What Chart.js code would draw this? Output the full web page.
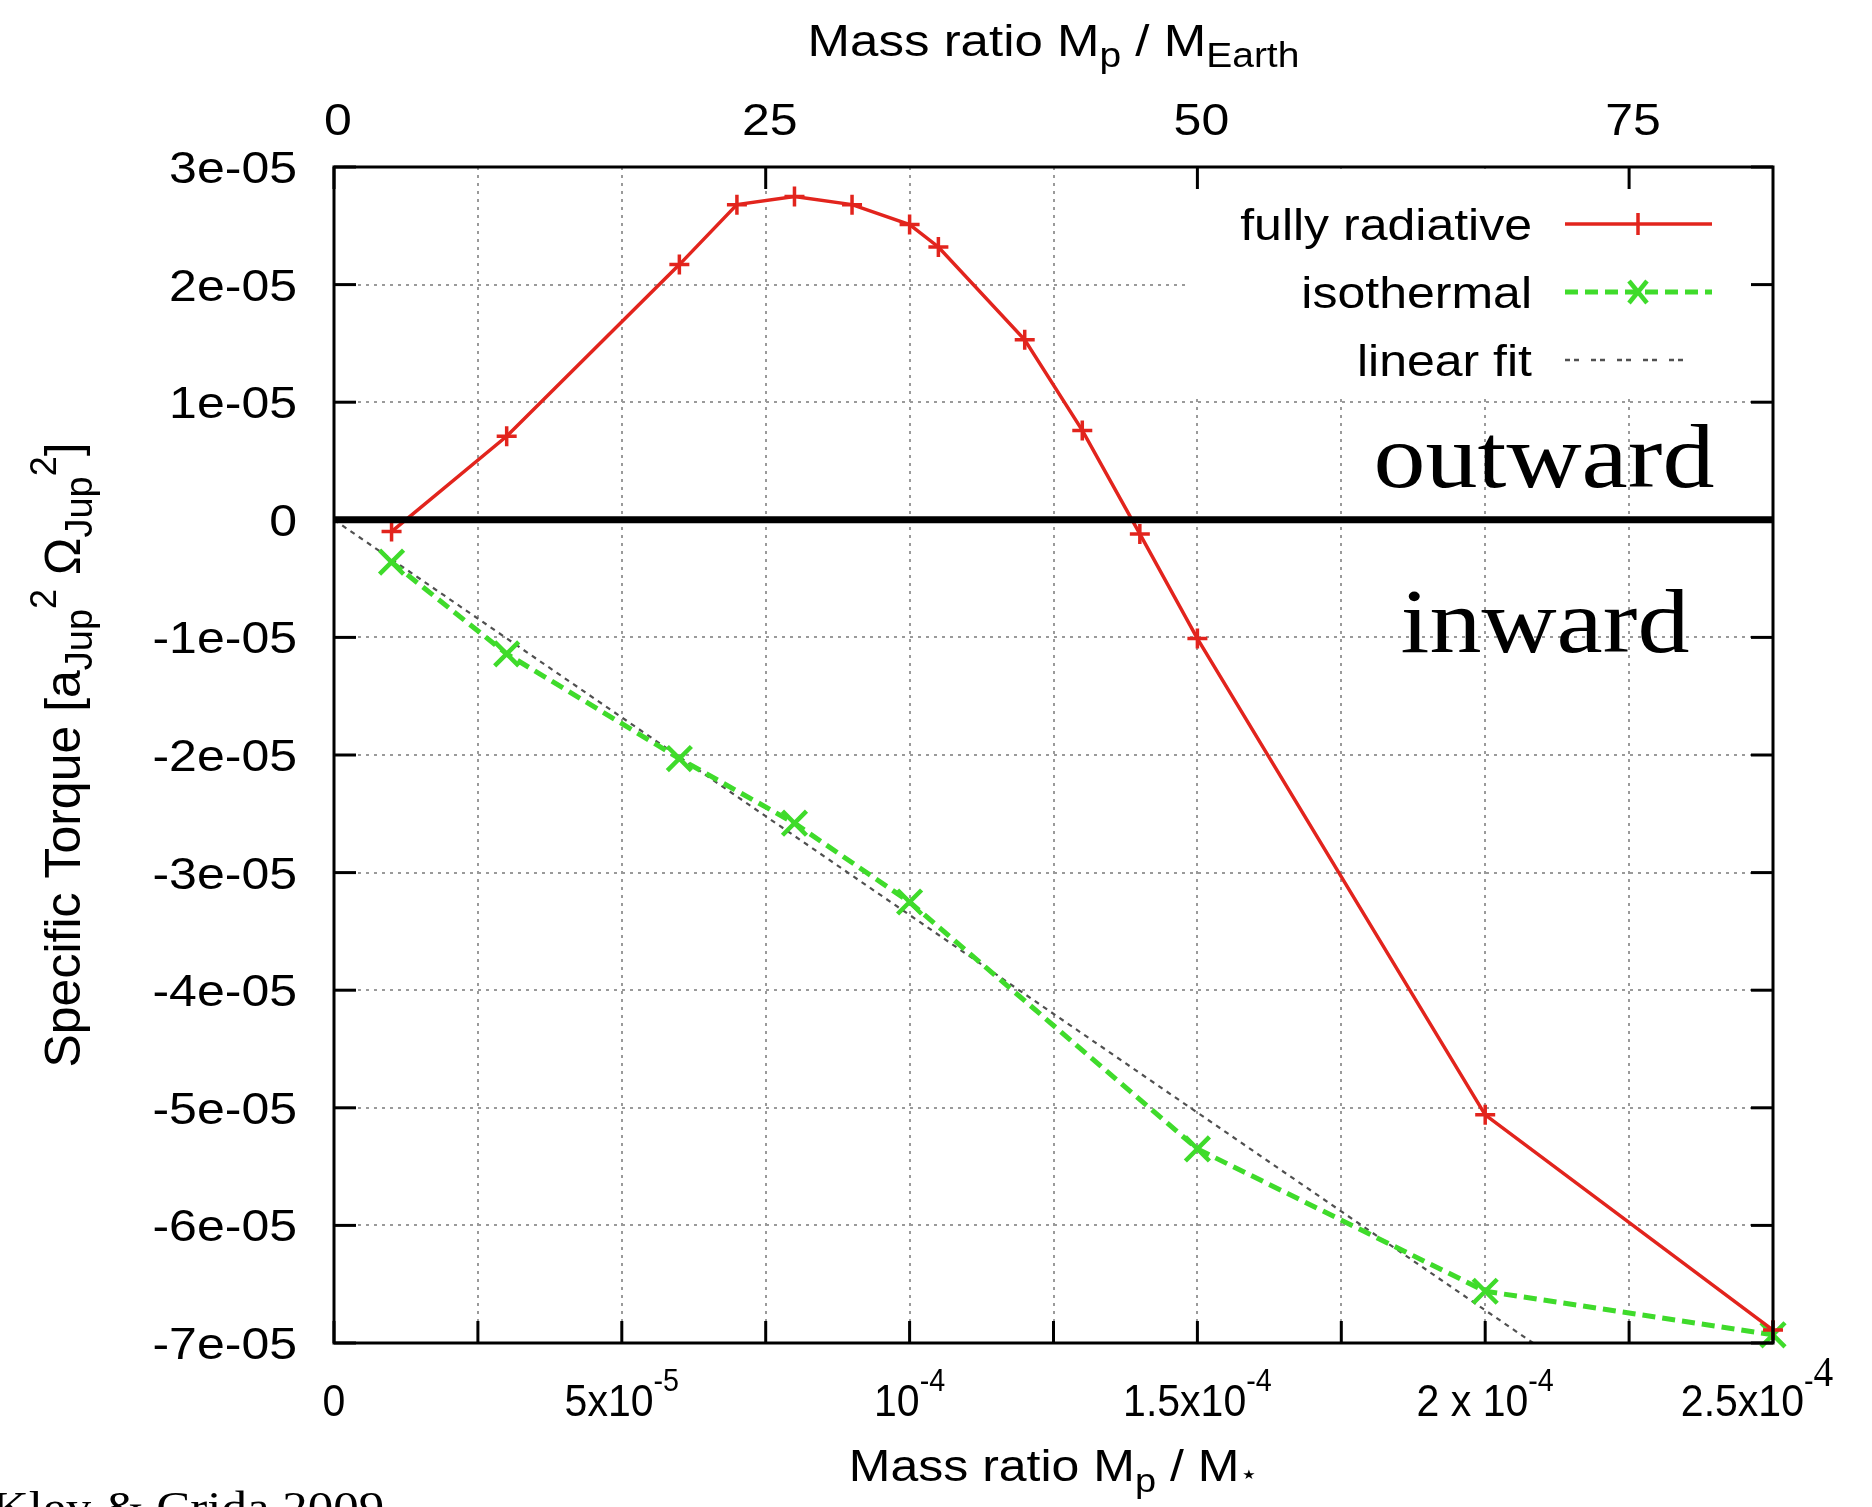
<!DOCTYPE html>
<html>
<head>
<meta charset="utf-8">
<script src="https://cdn.jsdelivr.net/npm/chart.js@4.4.1/dist/chart.umd.min.js"></script>
<style>
html, body { margin: 0; padding: 0; background: #fff; }
#wrap { width: 1872px; height: 1507px; }
</style>
</head>
<body>
<div id="wrap"><canvas id="torque" width="1872" height="1507"></canvas></div>
<script>
// fully radiative runs
var radiativeX = [1e-5, 3e-5, 6e-5, 7e-5, 8e-5, 9e-5, 1.0e-4, 1.05e-4, 1.2e-4, 1.3e-4, 1.4e-4, 1.5e-4, 2.0e-4, 2.5e-4];
var radiativeY = [-1.0e-6, 7.1e-6, 2.17e-5, 2.68e-5, 2.75e-5, 2.68e-5, 2.51e-5, 2.32e-5, 1.53e-5, 7.6e-6, -1.2e-6, -1.01e-5, -5.06e-5, -6.89e-5];
// isothermal runs
var isothermalX = [1e-5, 3e-5, 6e-5, 8e-5, 1.0e-4, 1.5e-4, 2.0e-4, 2.5e-4];
var isothermalY = [-3.6e-6, -1.14e-5, -2.03e-5, -2.58e-5, -3.25e-5, -5.35e-5, -6.56e-5, -6.93e-5];
// linear fit (through origin)
var fitX = [0, 2.083e-4];
var fitY = [0, -7.0e-5];

var yTickValues = [3e-5, 2e-5, 1e-5, 0, -1e-5, -2e-5, -3e-5, -4e-5, -5e-5, -6e-5, -7e-5];
var yTickLabels = ['3e-05', '2e-05', '1e-05', '0', '-1e-05', '-2e-05', '-3e-05', '-4e-05', '-5e-05', '-6e-05', '-7e-05'];
var xGridValues = [0, 2.5e-5, 5e-5, 7.5e-5, 1e-4, 1.25e-4, 1.5e-4, 1.75e-4, 2e-4, 2.25e-4, 2.5e-4];
var xTickValues = [0, 5e-5, 1e-4, 1.5e-4, 2e-4, 2.5e-4];
var xTickBase = ['0', '5x10', '10', '1.5x10', '2 x 10', '2.5x10'];
var xTickExp = ['', '-5', '-4', '-4', '-4', '-4'];
var earthMass = 3.0e-6;   // M_Earth / M_star
var topTickValues = [0, 25, 50, 75];
var topTickLabels = ['0', '25', '50', '75'];

var RED = '#e2241d';
var GREEN = '#3fdb2b';
var FIT = '#505050';
var GRID = '#9a9a9a';
var SANS = '"Liberation Sans", Arial, sans-serif';
var SERIF = '"Liberation Serif", "Times New Roman", serif';
var VS = 0.88;

function toPoints(xs, ys) {
  return xs.map(function (x, i) { return {x: x, y: ys[i]}; });
}

// parts: [text, size, dy, family]
function richText(ctx, parts, x, y, align, rot, hs) {
  ctx.save();
  ctx.translate(x, y);
  if (rot) ctx.rotate(rot); else ctx.scale(hs || 1, VS);
  ctx.textAlign = 'left';
  ctx.textBaseline = 'alphabetic';
  ctx.fillStyle = '#000';
  var w = 0;
  parts.forEach(function (p) { ctx.font = p[1] + 'px ' + (p[3] || SANS); w += ctx.measureText(p[0]).width; });
  var cx = align === 'center' ? -w / 2 : (align === 'right' ? -w : 0);
  parts.forEach(function (p) {
    ctx.font = p[1] + 'px ' + (p[3] || SANS);
    ctx.fillText(p[0], cx, p[2] || 0);
    cx += ctx.measureText(p[0]).width;
  });
  ctx.restore();
}

function seg(ctx, x1, y1, x2, y2) {
  ctx.beginPath(); ctx.moveTo(x1, y1); ctx.lineTo(x2, y2); ctx.stroke();
}

var gnuplotFrame = {
  id: 'gnuplotFrame',
  beforeDatasetsDraw: function (chart) {
    // opaque key box, hides the grid behind the legend
    var ctx = chart.ctx, a = chart.chartArea;
    ctx.save();
    ctx.fillStyle = '#fff';
    ctx.fillRect(1190, a.top + 2, a.right - 1192, 392 - a.top);
    ctx.restore();
  },
  afterDatasetsDraw: function (chart) {
    var ctx = chart.ctx, a = chart.chartArea;
    var sx = chart.scales.x, sy = chart.scales.y, sx2 = chart.scales.x2;
    ctx.save();
    ctx.strokeStyle = '#000';
    ctx.lineWidth = 7;
    var y0 = sy.getPixelForValue(0);
    seg(ctx, a.left, y0, a.right, y0);
    ctx.lineWidth = 3;
    yTickValues.forEach(function (v) {
      var py = sy.getPixelForValue(v);
      seg(ctx, a.left, py, a.left + 22, py);
      seg(ctx, a.right - 22, py, a.right, py);
    });
    xGridValues.forEach(function (v) {
      var px = sx.getPixelForValue(v);
      seg(ctx, px, a.bottom, px, a.bottom - 22);
    });
    topTickValues.forEach(function (v) {
      var px = sx2.getPixelForValue(v);
      seg(ctx, px, a.top, px, a.top + 22);
    });
    ctx.strokeRect(a.left, a.top, a.right - a.left, a.bottom - a.top);

    // legend samples
    var keys = [
      {label: 'fully radiative', color: RED, width: 3.5, dash: [], mark: 'cross', end: 1712},
      {label: 'isothermal', color: GREEN, width: 5, dash: [13, 7], mark: 'crossRot', end: 1712},
      {label: 'linear fit', color: FIT, width: 2.5, dash: [5, 4, 5, 12], mark: null, end: 1695}
    ];
    keys.forEach(function (k, i) {
      var base = 240 + i * 68, ly = base - 16;
      ctx.strokeStyle = k.color;
      ctx.lineWidth = k.width;
      ctx.setLineDash(k.dash);
      seg(ctx, 1565, ly, k.end, ly);
      ctx.setLineDash([]);
      if (k.mark === 'cross') {
        seg(ctx, 1638, ly - 11, 1638, ly + 11);
      } else if (k.mark === 'crossRot') {
        ctx.lineWidth = 4.5;
        seg(ctx, 1629, ly - 11, 1647, ly + 11);
        seg(ctx, 1629, ly + 11, 1647, ly - 11);
      }
      richText(ctx, [[k.label, 50]], 1532, base, 'right');
    });
    ctx.restore();

    // axis labels
    yTickValues.forEach(function (v, i) {
      richText(ctx, [[yTickLabels[i], 50]], 297, sy.getPixelForValue(v) + 16, 'right');
    });
    xTickValues.forEach(function (v, i) {
      var parts = [[xTickBase[i], 50]];
      var shift = 0;
      if (i === xTickValues.length - 1) {
        parts.push(['-', 35, -28]);
        parts.push(['4', 48, -34, SERIF]);
        shift = -16;
      } else if (xTickExp[i]) {
        parts.push([xTickExp[i], 35, -28]);
      }
      richText(ctx, parts, sx.getPixelForValue(v) + shift, 1416, 'center', 0, 0.82);
    });
    topTickValues.forEach(function (v, i) {
      richText(ctx, [[topTickLabels[i], 50]], sx2.getPixelForValue(v) + 4, 135, 'center');
    });

    var cxm = (a.left + a.right) / 2;
    richText(ctx, [['Mass ratio M', 51], ['p', 39, 13], [' / M', 51], ['Earth', 39, 13]], cxm, 56, 'center');
    richText(ctx, [['Mass ratio M', 50], ['p', 38, 13], [' / M', 50], ['\u22C6', 30, 2, '"DejaVu Sans"']], cxm, 1481, 'center');
    richText(ctx, [['Specific Torque [a', 50], ['Jup', 38, 12], ['2', 36, -24], [' \u03A9', 50], ['Jup', 38, 12], ['2', 36, -24], [']', 50]],
      80, (a.top + a.bottom) / 2, 'center', -Math.PI / 2);

    richText(ctx, [['outward', 104, 0, SERIF]], 1544, 487, 'center');
    richText(ctx, [['inward', 104, 0, SERIF]], 1545, 652, 'center');
    richText(ctx, [['Kley & Crida 2009', 51, 0, SERIF]], -8, 1522, 'left');
  }
};

var gridOpts = { color: GRID, lineWidth: 2, drawTicks: false };

new Chart(document.getElementById('torque'), {
  type: 'line',
  data: {
    datasets: [
      {
        label: 'fully radiative',
        data: toPoints(radiativeX, radiativeY),
        borderColor: RED, backgroundColor: RED,
        borderWidth: 3.5,
        pointStyle: 'cross', pointRadius: 10, pointBorderWidth: 3.5,
        pointBorderColor: RED,
        clip: false
      },
      {
        label: 'isothermal',
        data: toPoints(isothermalX, isothermalY),
        borderColor: GREEN, backgroundColor: GREEN,
        borderWidth: 5, borderDash: [13, 7],
        pointStyle: 'crossRot', pointRadius: 17, pointBorderWidth: 4.5,
        pointBorderColor: GREEN,
        clip: false
      },
      {
        label: 'linear fit',
        data: toPoints(fitX, fitY),
        borderColor: FIT,
        borderWidth: 2.2, borderDash: [5, 5],
        pointRadius: 0
      }
    ]
  },
  options: {
    responsive: false,
    animation: false,
    layout: { padding: { left: 0, right: 99, top: 0, bottom: 0 } },
    plugins: { legend: { display: false }, tooltip: { enabled: false } },
    elements: { line: { tension: 0 } },
    scales: {
      x: {
        type: 'linear', position: 'bottom', min: 0, max: 2.5e-4,
        afterBuildTicks: function (s) { s.ticks = xGridValues.map(function (v) { return {value: v}; }); },
        afterFit: function (s) { s.height = 164; },
        ticks: { display: false },
        grid: gridOpts,
        border: { display: false, dash: [3, 5] }
      },
      x2: {
        type: 'linear', position: 'top', min: 0, max: 2.5e-4 / earthMass,
        afterBuildTicks: function (s) { s.ticks = topTickValues.map(function (v) { return {value: v}; }); },
        afterFit: function (s) { s.height = 167; },
        ticks: { display: false },
        grid: { display: false, drawTicks: false },
        border: { display: false }
      },
      y: {
        type: 'linear', position: 'left', min: -7e-5, max: 3e-5,
        afterBuildTicks: function (s) { s.ticks = yTickValues.map(function (v) { return {value: v}; }); },
        afterFit: function (s) { s.width = 334; },
        ticks: { display: false },
        grid: gridOpts,
        border: { display: false, dash: [3, 5] }
      }
    }
  },
  plugins: [gnuplotFrame]
});
</script>
</body>
</html>
